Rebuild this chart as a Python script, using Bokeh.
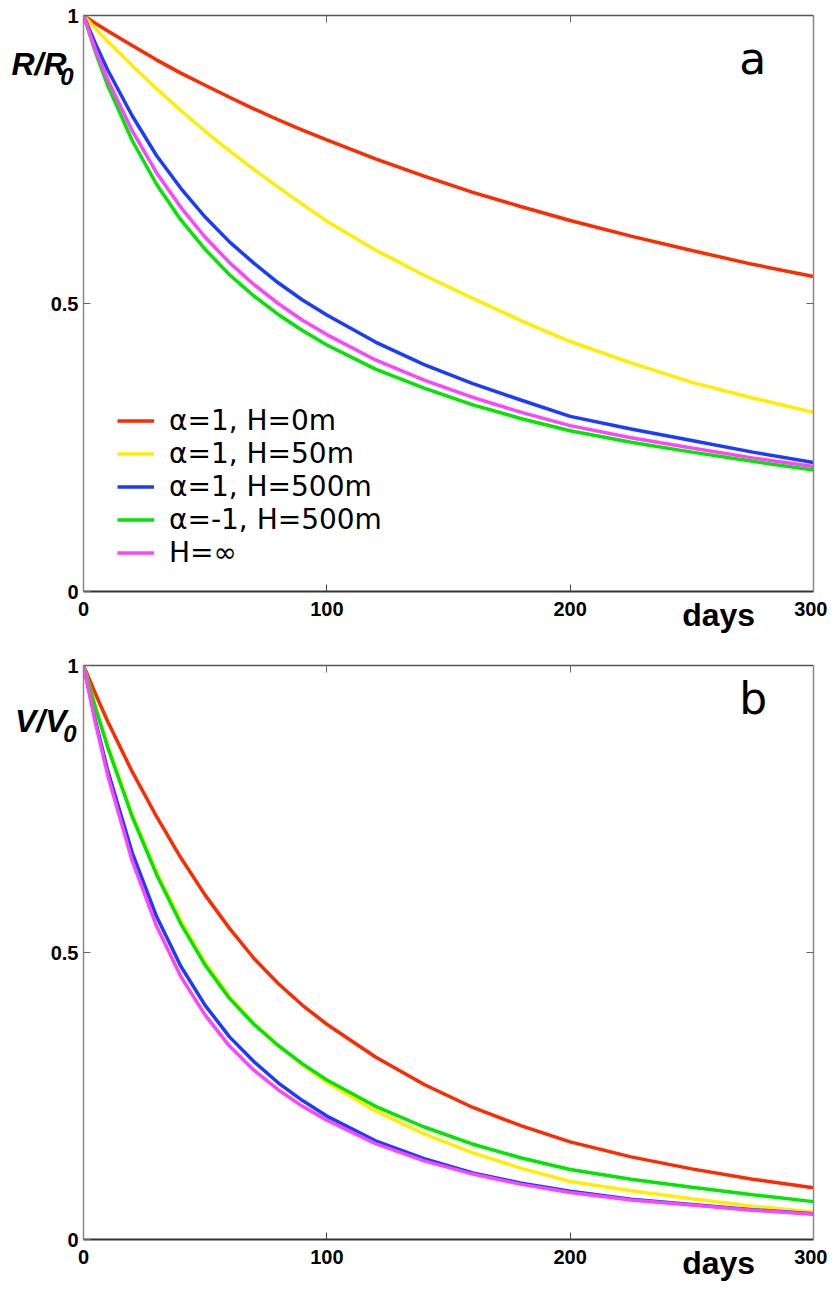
from bokeh.plotting import figure
from bokeh.models import Range1d, FixedTicker, LinearAxis, Label, Legend, LegendItem
from bokeh.layouts import column
from bokeh.embed import file_html
from bokeh.resources import INLINE

# ---------------- data ----------------
days = [0, 5, 10, 20, 30, 40, 50, 60, 70, 80, 90, 100, 120, 140, 160, 180, 200, 225, 250, 275, 300]

series_labels = ["α=1, H=0m", "α=1, H=50m", "α=1, H=500m", "α=-1, H=500m", "H=∞"]
series_colors = ["#ff2a00", "#ffee00", "#1a3cff", "#00e600", "#ff44ff"]

# panel a: R/R0
R_a1_H0 = [1, 0.986, 0.973, 0.948, 0.923, 0.900, 0.879, 0.858, 0.838, 0.819, 0.801, 0.784,
           0.751, 0.721, 0.693, 0.668, 0.644, 0.617, 0.592, 0.568, 0.547]
R_a1_H50 = [1, 0.977, 0.955, 0.913, 0.873, 0.835, 0.799, 0.765, 0.733, 0.702, 0.672, 0.643,
            0.593, 0.549, 0.509, 0.470, 0.434, 0.397, 0.363, 0.336, 0.311]
R_a1_H500 = [1, 0.950, 0.905, 0.826, 0.757, 0.700, 0.650, 0.607, 0.570, 0.536, 0.506, 0.480,
             0.433, 0.394, 0.361, 0.332, 0.304, 0.282, 0.262, 0.242, 0.224]
R_am1_H500 = [1, 0.935, 0.878, 0.783, 0.707, 0.645, 0.594, 0.550, 0.513, 0.481, 0.453, 0.428,
              0.386, 0.353, 0.324, 0.300, 0.279, 0.259, 0.242, 0.226, 0.211]
R_Hinf = [1, 0.940, 0.888, 0.800, 0.727, 0.667, 0.615, 0.571, 0.533, 0.500, 0.471, 0.446,
          0.402, 0.367, 0.337, 0.311, 0.288, 0.267, 0.249, 0.232, 0.217]

# panel b: V/V0
V_a1_H0 = [1, 0.950, 0.902, 0.815, 0.737, 0.665, 0.600, 0.542, 0.490, 0.446, 0.408, 0.375,
           0.318, 0.270, 0.230, 0.198, 0.170, 0.144, 0.123, 0.105, 0.090]
V_a1_H50 = [1, 0.926, 0.859, 0.740, 0.640, 0.555, 0.482, 0.423, 0.377, 0.338, 0.304, 0.274,
            0.224, 0.184, 0.151, 0.124, 0.101, 0.085, 0.071, 0.058, 0.048]
V_a1_H500 = [1, 0.902, 0.816, 0.674, 0.563, 0.476, 0.408, 0.353, 0.310, 0.273, 0.242, 0.215,
             0.172, 0.141, 0.116, 0.098, 0.084, 0.070, 0.061, 0.052, 0.045]
V_am1_H500 = [1, 0.925, 0.857, 0.737, 0.636, 0.550, 0.478, 0.420, 0.375, 0.338, 0.306, 0.278,
              0.232, 0.196, 0.166, 0.142, 0.122, 0.105, 0.091, 0.078, 0.066]
V_Hinf = [1, 0.898, 0.808, 0.660, 0.546, 0.458, 0.391, 0.337, 0.295, 0.261, 0.232, 0.208,
          0.167, 0.137, 0.114, 0.096, 0.082, 0.069, 0.060, 0.051, 0.044]

x_ticks = [0, 100, 200, 300]
y_ticks = [0, 0.5, 1]
y_tick_labels = {0: "0", 0.5: "0.5", 1: "1"}
x_title = "days"
x_title_at = 261

TICK_FONT = "Liberation Sans"


def blank_axis(ticks, color):
    return LinearAxis(ticker=FixedTicker(ticks=ticks),
                      major_label_overrides={t: "" for t in ticks},
                      major_tick_in=7, major_tick_out=0, minor_tick_line_color=None,
                      major_label_text_font_size="10px", major_label_standoff=0,
                      axis_line_color=color, axis_line_width=1.5,
                      major_tick_line_color="#666666")


def text_axis(at, text, size, style, standoff):
    return LinearAxis(ticker=FixedTicker(ticks=[at]),
                      major_label_overrides={at: text},
                      axis_line_color=None, major_tick_line_color=None,
                      minor_tick_line_color=None, major_tick_in=0, major_tick_out=0,
                      major_label_standoff=standoff,
                      major_label_text_font="Liberation Sans",
                      major_label_text_font_style=style,
                      major_label_text_font_size=size,
                      major_label_text_color="black")


def make_panel(series, ylab, ylab_at, sub_at, letter, letter_y, top_border, bottom_border,
               frame_h, with_legend):
    p = figure(frame_width=730, frame_height=frame_h,
               x_range=Range1d(0, 300), y_range=Range1d(0, 1),
               output_backend="svg", toolbar_location=None,
               min_border_left=83, min_border_right=14,
               min_border_top=top_border, min_border_bottom=bottom_border)
    p.grid.visible = False
    p.outline_line_color = None
    p.background_fill_color = "white"

    renderers = []
    for ys, col in zip(series, series_colors):
        r = p.line(days, ys, line_color=col, line_width=3.5)
        renderers.append(r)

    # bottom axis
    xa = p.xaxis[0]
    xa.ticker = FixedTicker(ticks=x_ticks)
    xa.major_tick_in = 7
    xa.major_tick_out = 0
    xa.minor_tick_line_color = None
    xa.axis_line_color = "#333333"
    xa.axis_line_width = 2
    xa.major_tick_line_color = "#444444"
    xa.major_label_text_font = TICK_FONT
    xa.major_label_text_font_style = "bold"
    xa.major_label_text_font_size = "20px"
    xa.major_label_text_color = "black"
    xa.major_label_standoff = 10

    # left axis
    ya = p.yaxis[0]
    ya.ticker = FixedTicker(ticks=y_ticks)
    ya.major_label_overrides = y_tick_labels
    ya.major_tick_in = 7
    ya.major_tick_out = 0
    ya.minor_tick_line_color = None
    ya.axis_line_color = "#888888"
    ya.axis_line_width = 1.5
    ya.major_tick_line_color = "#666666"
    ya.major_label_text_font = TICK_FONT
    ya.major_label_text_font_style = "bold"
    ya.major_label_text_font_size = "20px"
    ya.major_label_text_color = "black"
    ya.major_label_standoff = 5

    # box: top and right axes with inward ticks, no labels
    p.add_layout(blank_axis([100, 200], "#555555"), "above")
    p.add_layout(blank_axis([0.5], "#888888"), "right")

    # y title (R/R, subscript 0) as horizontal labels of extra invisible left axes
    p.add_layout(text_axis(ylab_at, ylab, "32px", "bold italic", -19), "left")
    p.add_layout(text_axis(sub_at, "0", "24px", "bold italic", -65), "left")

    # x title as a label of an extra invisible bottom axis
    p.add_layout(text_axis(x_title_at, x_title, "32px", "bold", -22), "below")

    # panel letter
    p.add_layout(Label(x=269.5, y=letter_y, text=letter, text_font="DejaVu Sans",
                       text_font_size="44px", text_baseline="alphabetic",
                       text_align="left", text_color="black"))

    if with_legend:
        items = [LegendItem(label=lab, renderers=[r]) for lab, r in zip(series_labels, renderers)]
        leg = Legend(items=items, location=(34, 22), padding=0, margin=0, spacing=0,
                     glyph_width=37, glyph_height=33, label_height=33, label_standoff=15,
                     label_text_font="DejaVu Sans", label_text_font_size="28px",
                     label_text_color="black",
                     border_line_color=None, background_fill_alpha=0)
        p.add_layout(leg)
    return p


p1 = make_panel([R_a1_H0, R_a1_H50, R_a1_H500, R_am1_H500, R_Hinf], "R/R", 0.916, 0.894,
                "a", 0.925, 15, 44, 576, True)
p2 = make_panel([V_a1_H0, V_a1_H50, V_a1_H500, V_am1_H500, V_Hinf], "V/V", 0.903, 0.881,
                "b", 0.943, 30, 45, 574, False)

layout = column(p1, p2, spacing=0)
open("out.html", "w").write(file_html(layout, INLINE))
